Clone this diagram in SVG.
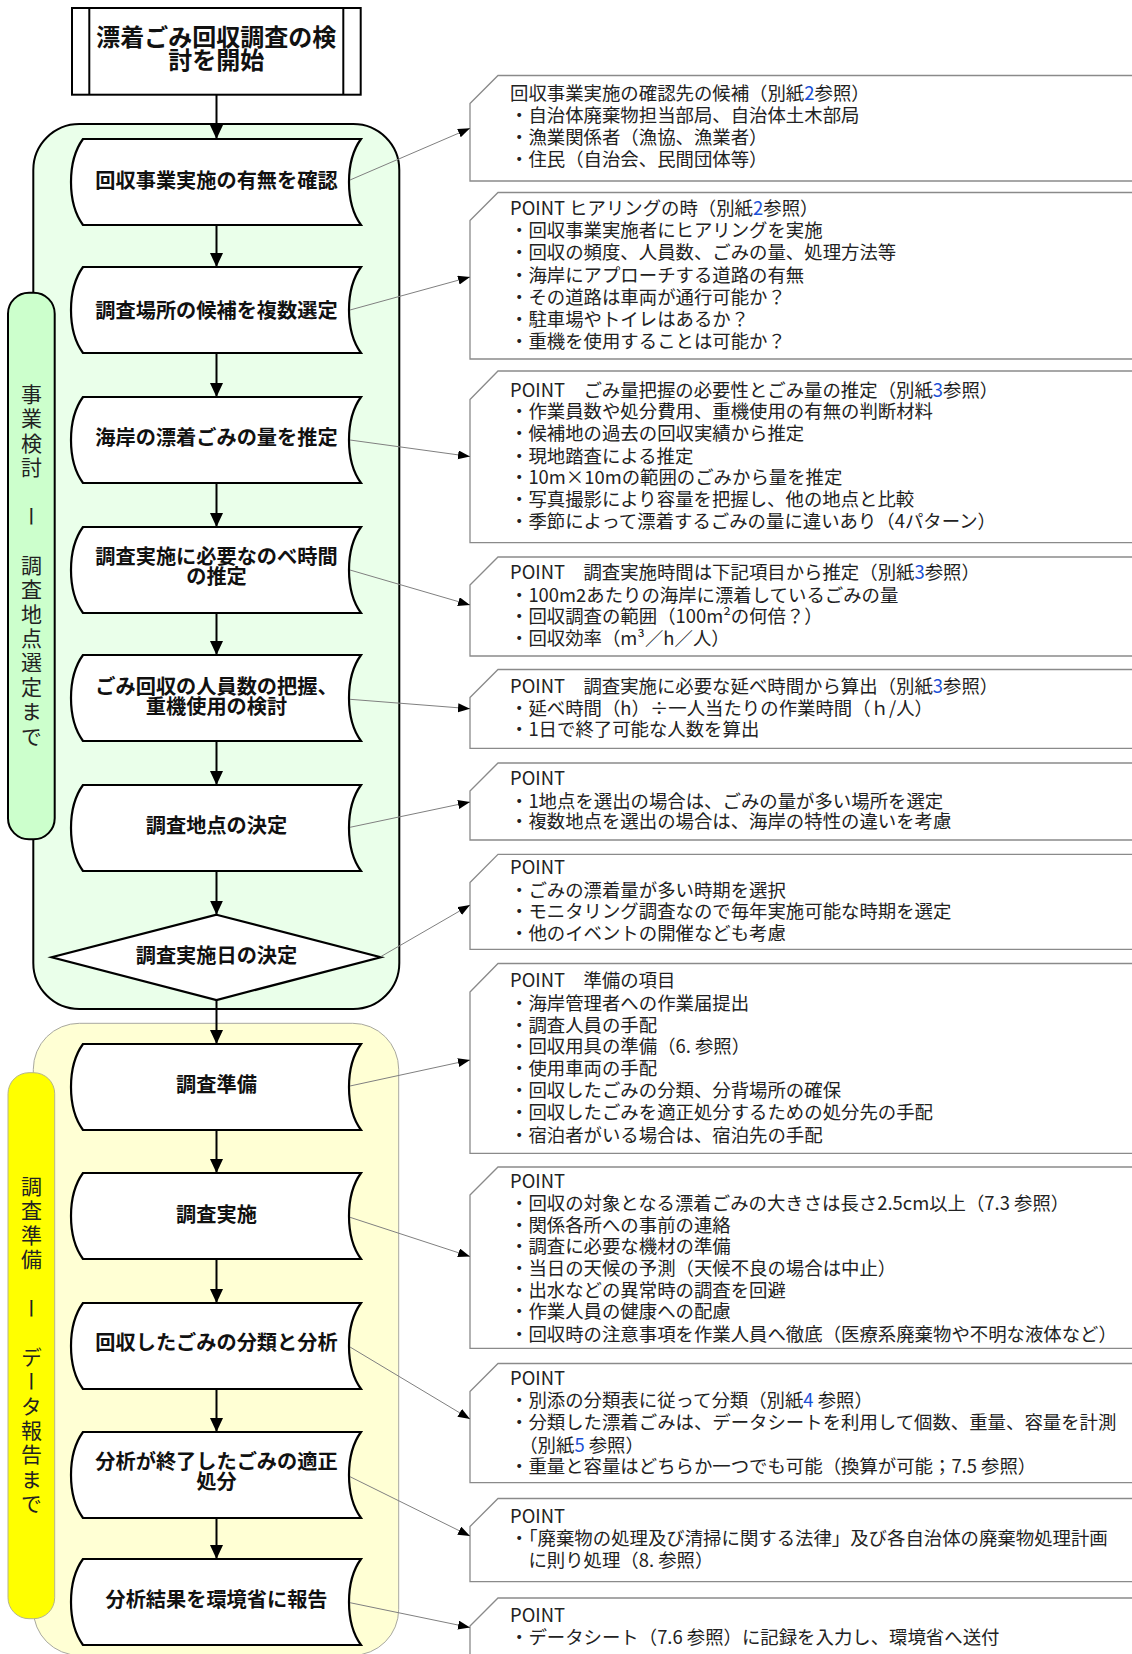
<svg xmlns="http://www.w3.org/2000/svg" width="1132" height="1654" viewBox="0 0 1132 1654">
<defs>
<marker id="ah" markerUnits="userSpaceOnUse" markerWidth="14" markerHeight="14" refX="14" refY="6.5" orient="auto"><path d="M0,0 L14,6.5 L0,13 Z" fill="#000"/></marker>
<marker id="as" markerUnits="userSpaceOnUse" markerWidth="12" markerHeight="10" refX="12" refY="4.5" orient="auto"><path d="M0,0 L12,4.5 L0,9 Z" fill="#000"/></marker>
<style>
.shape{fill:#fff;stroke:#000;stroke-width:2.2}
.st{font-family:"Noto Sans CJK JP","Noto Sans CJK SC",sans-serif;font-weight:700;font-size:20.2px;text-anchor:middle;fill:#111}
.note{fill:#fff;stroke:#8a8a8a;stroke-width:1.3}
.nt{font-family:"Noto Sans CJK JP","Noto Sans CJK SC",sans-serif;font-size:18.4px;fill:#222}
.b{fill:#1a4fd6}
.flow{stroke:#000;stroke-width:2;fill:none;marker-end:url(#ah)}
.link{stroke:#808080;stroke-width:1;fill:none;marker-end:url(#as)}
.vt{font-family:"Noto Sans CJK JP","Noto Sans CJK SC",sans-serif;font-size:21px;fill:#222;writing-mode:vertical-rl;letter-spacing:3.4px}
</style>
</defs>

<g id="group-green">
<rect x="33.3" y="124" width="366" height="885" rx="46" ry="46" fill="#eaffea" stroke="#000" stroke-width="2"/>
</g>
<g id="group-yellow">
<rect x="33.3" y="1023.3" width="365.4" height="632" rx="46" ry="46" fill="#ffffd4" stroke="#a8a8a0" stroke-width="1"/>
</g>
<g id="label-green">
<rect x="8" y="292.7" width="46.7" height="546.6" rx="21" ry="21" fill="#ccffcc" stroke="#000" stroke-width="2"/>
<text class="vt" x="31.5" y="383.5">事業検討　ー　調査地点選定まで</text>
</g>
<g id="label-yellow">
<rect x="8" y="1072.7" width="46.7" height="546" rx="21" ry="21" fill="#ffff00" stroke="#b5b58a" stroke-width="1"/>
<text class="vt" x="31.5" y="1175.5">調査準備　ー　データ報告まで</text>
</g>

<g id="start">
<rect x="72" y="8" width="288.7" height="86.7" fill="#fff" stroke="#000" stroke-width="2"/>
<line x1="89.3" y1="8" x2="89.3" y2="94.7" stroke="#000" stroke-width="2"/>
<line x1="343.3" y1="8" x2="343.3" y2="94.7" stroke="#000" stroke-width="2"/>
<text class="st" style="font-size:24px" x="216.3" y="45.8">漂着ごみ回収調査の検</text>
<text class="st" style="font-size:24px" x="216.3" y="69.1">討を開始</text>
</g>

<g id="n1"><path class="shape" d="M83,139 L361,139 C345,161 345,203 361,225 L83,225 C67,203 67,161 83,139 Z"/><text class="st" x="216.5" y="187.6">回収事業実施の有無を確認</text></g>
<g id="n2"><path class="shape" d="M83,267 L361,267 C345,289 345,331 361,353 L83,353 C67,331 67,289 83,267 Z"/><text class="st" x="216.5" y="317.6">調査場所の候補を複数選定</text></g>
<g id="n3"><path class="shape" d="M83,397 L361,397 C345,419 345,461 361,483 L83,483 C67,461 67,419 83,397 Z"/><text class="st" x="216.5" y="445">海岸の漂着ごみの量を推定</text></g>
<g id="n4"><path class="shape" d="M83,527 L361,527 C345,549 345,591 361,613 L83,613 C67,591 67,549 83,527 Z"/><text class="st" x="216.5" y="564.3">調査実施に必要なのべ時間</text><text class="st" x="216.5" y="584.3">の推定</text></g>
<g id="n5"><path class="shape" d="M83,655 L361,655 C345,677 345,719 361,741 L83,741 C67,719 67,677 83,655 Z"/><text class="st" x="216.5" y="694.3">ごみ回収の人員数の把握、</text><text class="st" x="216.5" y="714.3">重機使用の検討</text></g>
<g id="n6"><path class="shape" d="M83,785 L361,785 C345,807 345,849 361,871 L83,871 C67,849 67,807 83,785 Z"/><text class="st" x="216.5" y="832.6">調査地点の決定</text></g>
<g id="n7"><path class="shape" d="M216.5,914.7 L380.7,957.3 L216.5,1000 L51.7,957.3 Z"/><text class="st" x="216.5" y="962.6">調査実施日の決定</text></g>
<g id="n8"><path class="shape" d="M83,1044 L361,1044 C345,1066 345,1108 361,1130 L83,1130 C67,1108 67,1066 83,1044 Z"/><text class="st" x="216.5" y="1091.6">調査準備</text></g>
<g id="n9"><path class="shape" d="M83,1173 L361,1173 C345,1195 345,1237 361,1259 L83,1259 C67,1237 67,1195 83,1173 Z"/><text class="st" x="216.5" y="1221.6">調査実施</text></g>
<g id="n10"><path class="shape" d="M83,1303 L361,1303 C345,1325 345,1367 361,1389 L83,1389 C67,1367 67,1325 83,1303 Z"/><text class="st" x="216.5" y="1350.3">回収したごみの分類と分析</text></g>
<g id="n11"><path class="shape" d="M83,1432 L361,1432 C345,1454 345,1496 361,1518 L83,1518 C67,1496 67,1454 83,1432 Z"/><text class="st" x="216.5" y="1469.3">分析が終了したごみの適正</text><text class="st" x="216.5" y="1489.3">処分</text></g>
<g id="n12"><path class="shape" d="M83,1559 L361,1559 C345,1581 345,1623 361,1645 L83,1645 C67,1623 67,1581 83,1559 Z"/><text class="st" x="216.5" y="1607">分析結果を環境省に報告</text></g>

<g id="note1"><path class="note" d="M470,103.5 L498,75.5 L1140,75.5 L1140,181 L470,181 Z"/>
<text class="nt"><tspan x="510" y="100">回収事業実施の確認先の候補（別紙<tspan class="b">2</tspan>参照）</tspan><tspan x="510" y="121.8">・自治体廃棄物担当部局、自治体土木部局</tspan><tspan x="510" y="144">・漁業関係者（漁協、漁業者）</tspan><tspan x="510" y="166">・住民（自治会、民間団体等）</tspan></text></g>
<g id="note2"><path class="note" d="M470,220.5 L498,192.5 L1140,192.5 L1140,359 L470,359 Z"/>
<text class="nt"><tspan x="510" y="215">POINT ヒアリングの時（別紙<tspan class="b">2</tspan>参照）</tspan><tspan x="510" y="237.4">・回収事業実施者にヒアリングを実施</tspan><tspan x="510" y="259.4">・回収の頻度、人員数、ごみの量、処理方法等</tspan><tspan x="510" y="281.7">・海岸にアプローチする道路の有無</tspan><tspan x="510" y="304">・その道路は車両が通行可能か？</tspan><tspan x="510" y="326">・駐車場やトイレはあるか？</tspan><tspan x="510" y="347.7">・重機を使用することは可能か？</tspan></text></g>
<g id="note3"><path class="note" d="M470,399.5 L498,371 L1140,371 L1140,542.7 L470,542.7 Z"/>
<text class="nt"><tspan x="510" y="397.4">POINT　ごみ量把握の必要性とごみ量の推定（別紙<tspan class="b">3</tspan>参照）</tspan><tspan x="510" y="418.4">・作業員数や処分費用、重機使用の有無の判断材料</tspan><tspan x="510" y="440">・候補地の過去の回収実績から推定</tspan><tspan x="510" y="462.7">・現地踏査による推定</tspan><tspan x="510" y="484">・10m×10mの範囲のごみから量を推定</tspan><tspan x="510" y="506">・写真撮影により容量を把握し、他の地点と比較</tspan><tspan x="510" y="528.4">・季節によって漂着するごみの量に違いあり（4パターン）</tspan></text></g>
<g id="note4"><path class="note" d="M470,585 L498,557 L1140,557 L1140,656 L470,656 Z"/>
<text class="nt"><tspan x="510" y="579">POINT　調査実施時間は下記項目から推定（別紙<tspan class="b">3</tspan>参照）</tspan><tspan x="510" y="601.7">・100m2あたりの海岸に漂着しているごみの量</tspan><tspan x="510" y="623.4">・回収調査の範囲（100m²の何倍？）</tspan><tspan x="510" y="645">・回収効率（m³／h／人）</tspan></text></g>
<g id="note5"><path class="note" d="M470,697.5 L498,669.5 L1140,669.5 L1140,748.3 L470,748.3 Z"/>
<text class="nt"><tspan x="510" y="692.7">POINT　調査実施に必要な延べ時間から算出（別紙<tspan class="b">3</tspan>参照）</tspan><tspan x="510" y="715">・延べ時間（h）÷一人当たりの作業時間（ｈ/人）</tspan><tspan x="510" y="736">・1日で終了可能な人数を算出</tspan></text></g>
<g id="note6"><path class="note" d="M470,791 L498,763 L1140,763 L1140,840 L470,840 Z"/>
<text class="nt"><tspan x="510" y="785">POINT</tspan><tspan x="510" y="807.7">・1地点を選出の場合は、ごみの量が多い場所を選定</tspan><tspan x="510" y="828.4">・複数地点を選出の場合は、海岸の特性の違いを考慮</tspan></text></g>
<g id="note7"><path class="note" d="M470,882.5 L498,854.3 L1140,854.3 L1140,949.3 L470,949.3 Z"/>
<text class="nt"><tspan x="510" y="874">POINT</tspan><tspan x="510" y="897.4">・ごみの漂着量が多い時期を選択</tspan><tspan x="510" y="918.4">・モニタリング調査なので毎年実施可能な時期を選定</tspan><tspan x="510" y="940">・他のイベントの開催なども考慮</tspan></text></g>
<g id="note8"><path class="note" d="M470,992 L498,963.5 L1140,963.5 L1140,1153.3 L470,1153.3 Z"/>
<text class="nt"><tspan x="510" y="986.7">POINT　準備の項目</tspan><tspan x="510" y="1010">・海岸管理者への作業届提出</tspan><tspan x="510" y="1031.7">・調査人員の手配</tspan><tspan x="510" y="1053.4">・回収用具の準備（6. 参照）</tspan><tspan x="510" y="1075">・使用車両の手配</tspan><tspan x="510" y="1096.7">・回収したごみの分類、分背場所の確保</tspan><tspan x="510" y="1119">・回収したごみを適正処分するための処分先の手配</tspan><tspan x="510" y="1141.7">・宿泊者がいる場合は、宿泊先の手配</tspan></text></g>
<g id="note9"><path class="note" d="M470,1195 L498,1167 L1140,1167 L1140,1348.3 L470,1348.3 Z"/>
<text class="nt"><tspan x="510" y="1188.4">POINT</tspan><tspan x="510" y="1210">・回収の対象となる漂着ごみの大きさは長さ2.5cm以上（7.3 参照）</tspan><tspan x="510" y="1231.7">・関係各所への事前の連絡</tspan><tspan x="510" y="1253.4">・調査に必要な機材の準備</tspan><tspan x="510" y="1275">・当日の天候の予測（天候不良の場合は中止）</tspan><tspan x="510" y="1296.7">・出水などの異常時の調査を回避</tspan><tspan x="510" y="1318.4">・作業人員の健康への配慮</tspan><tspan x="510" y="1340.7">・回収時の注意事項を作業人員へ徹底（医療系廃棄物や不明な液体など）</tspan></text></g>
<g id="note10"><path class="note" d="M470,1391.5 L498,1363.5 L1140,1363.5 L1140,1482.7 L470,1482.7 Z"/>
<text class="nt"><tspan x="510" y="1385">POINT</tspan><tspan x="510" y="1407.2">・別添の分類表に従って分類（別紙<tspan class="b">4</tspan> 参照）</tspan><tspan x="510" y="1429.4">・分類した漂着ごみは、データシートを利用して個数、重量、容量を計測</tspan><tspan x="510" y="1451.7">　（別紙<tspan class="b">5</tspan> 参照）</tspan><tspan x="510" y="1473.4">・重量と容量はどちらか一つでも可能（換算が可能；7.5 参照）</tspan></text></g>
<g id="note11"><path class="note" d="M470,1526.5 L498,1498.5 L1140,1498.5 L1140,1581.7 L470,1581.7 Z"/>
<text class="nt"><tspan x="510" y="1522.7">POINT</tspan><tspan x="510" y="1544.7">・「廃棄物の処理及び清掃に関する法律」及び各自治体の廃棄物処理計画</tspan><tspan x="510" y="1566.7">　に則り処理（8. 参照）</tspan></text></g>
<g id="note12"><path class="note" d="M470,1626 L498,1598 L1140,1598 L1140,1700 L470,1700 Z"/>
<text class="nt"><tspan x="510" y="1621.7">POINT</tspan><tspan x="510" y="1644.4">・データシート（7.6 参照）に記録を入力し、環境省へ送付</tspan></text></g>

<g id="connectors">
<line class="flow" x1="216.5" y1="94.7" x2="216.5" y2="139"/>
<line class="flow" x1="216.5" y1="225" x2="216.5" y2="267"/>
<line class="flow" x1="216.5" y1="353" x2="216.5" y2="397"/>
<line class="flow" x1="216.5" y1="483" x2="216.5" y2="527"/>
<line class="flow" x1="216.5" y1="613" x2="216.5" y2="655"/>
<line class="flow" x1="216.5" y1="741" x2="216.5" y2="785"/>
<line class="flow" x1="216.5" y1="871" x2="216.5" y2="914.7"/>
<line class="flow" x1="216.5" y1="1000" x2="216.5" y2="1044"/>
<line class="flow" x1="216.5" y1="1130" x2="216.5" y2="1173"/>
<line class="flow" x1="216.5" y1="1259" x2="216.5" y2="1303"/>
<line class="flow" x1="216.5" y1="1389" x2="216.5" y2="1432"/>
<line class="flow" x1="216.5" y1="1518" x2="216.5" y2="1559"/>
<line class="link" x1="350" y1="180" x2="470" y2="128.3"/>
<line class="link" x1="350" y1="310" x2="470" y2="277"/>
<line class="link" x1="350" y1="440" x2="470" y2="456.5"/>
<line class="link" x1="350" y1="570" x2="470" y2="605"/>
<line class="link" x1="350" y1="699.3" x2="470" y2="708.7"/>
<line class="link" x1="350" y1="827.3" x2="470" y2="802"/>
<line class="link" x1="380.7" y1="956.7" x2="470" y2="905"/>
<line class="link" x1="350" y1="1086" x2="470" y2="1060"/>
<line class="link" x1="350" y1="1217.3" x2="470" y2="1256.5"/>
<line class="link" x1="350" y1="1347" x2="470" y2="1419"/>
<line class="link" x1="350" y1="1476.7" x2="470" y2="1536"/>
<line class="link" x1="350" y1="1602.7" x2="470" y2="1627.5"/>
</g>
</svg>
